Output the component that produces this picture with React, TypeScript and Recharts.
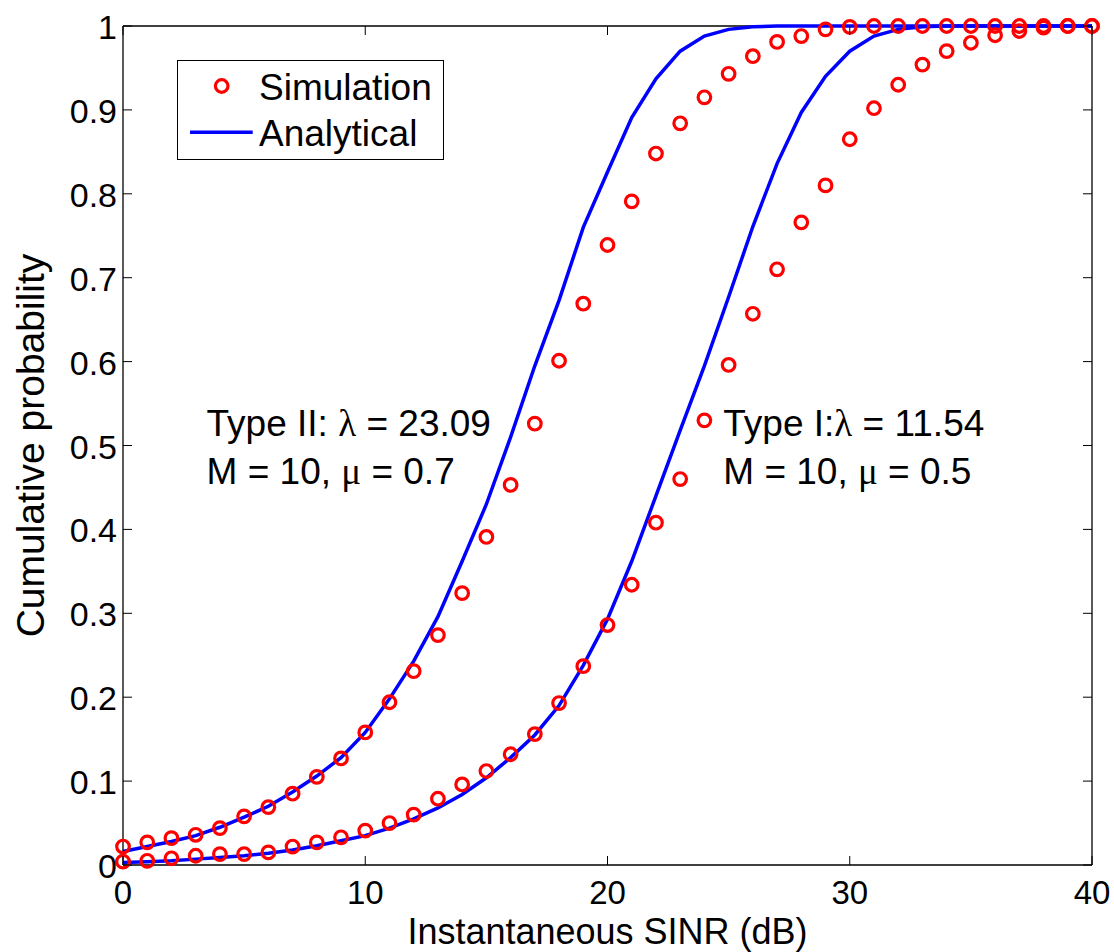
import React from "react";
import {
  ComposedChart,
  Line,
  Scatter,
  XAxis,
  YAxis,
  Legend,
  ReferenceLine,
  ReferenceDot,
} from "recharts";

// x axis: instantaneous SINR in dB
const sinrDb = [
  0, 1, 2, 3, 4, 5, 6, 7, 8, 9, 10, 11, 12, 13, 14, 15, 16, 17, 18, 19, 20,
  21, 22, 23, 24, 25, 26, 27, 28, 29, 30, 31, 32, 33, 34, 35, 36, 37, 38, 39, 40,
];

// simulation (circles)
const simTypeII = [
  0.022, 0.027, 0.032, 0.036, 0.044, 0.058, 0.069, 0.085, 0.105, 0.127, 0.158,
  0.194, 0.231, 0.274, 0.324, 0.391, 0.453, 0.526, 0.601, 0.669, 0.739, 0.791,
  0.848, 0.884, 0.915, 0.943, 0.964, 0.981, 0.988, 0.996, 0.999, 1, 1, 1, 1, 1,
  1, 1, 1, 1, 1,
];
const simTypeI = [
  0.004, 0.005, 0.008, 0.011, 0.013, 0.013, 0.015, 0.022, 0.027, 0.033, 0.041,
  0.05, 0.06, 0.079, 0.096, 0.112, 0.132, 0.156, 0.193, 0.237, 0.286, 0.334,
  0.408, 0.46, 0.53, 0.596, 0.657, 0.71, 0.766, 0.81, 0.865, 0.902, 0.93,
  0.954, 0.97, 0.98, 0.989, 0.994, 0.998, 1, 1,
];

// analytical (solid lines)
const anaTypeII = [
  0.016, 0.022, 0.028, 0.035, 0.045, 0.057, 0.07, 0.087, 0.106, 0.128, 0.158,
  0.198, 0.243, 0.296, 0.362, 0.43, 0.51, 0.595, 0.673, 0.76, 0.826, 0.891,
  0.937, 0.97, 0.988, 0.996, 0.999, 1, 1, 1, 1, 1, 1, 1, 1, 1, 1, 1, 1, 1, 1,
];
const anaTypeI = [
  0.003, 0.004, 0.005, 0.007, 0.009, 0.011, 0.014, 0.018, 0.023, 0.029, 0.035,
  0.044, 0.055, 0.068, 0.084, 0.104, 0.128, 0.155, 0.19, 0.238, 0.293, 0.362,
  0.44, 0.518, 0.595, 0.677, 0.761, 0.836, 0.897, 0.94, 0.97, 0.988, 0.996,
  0.999, 1, 1, 1, 1, 1, 1, 1,
];

const xTicks = [0, 10, 20, 30, 40];
const yTicks = [0, 0.1, 0.2, 0.3, 0.4, 0.5, 0.6, 0.7, 0.8, 0.9, 1];

const annotations = [
  { x: 3.45, y: 0.511, lines: ["Type II: λ = 23.09", "M = 10, μ = 0.7"] },
  { x: 24.78, y: 0.511, lines: ["Type I:λ = 11.54", "M = 10, μ = 0.5"] },
];

const data = sinrDb.map((x, i) => ({
  x,
  simI: simTypeI[i],
  simII: simTypeII[i],
  anaI: anaTypeI[i],
  anaII: anaTypeII[i],
}));

const FONT = '"Liberation Sans", Arial, Helvetica, sans-serif';
const GREEK = '"Liberation Serif", "DejaVu Serif", serif';
const PLOT = { left: 123, top: 26, right: 1092, bottom: 865 };
const TICK_LEN = 9;

const withGreek = (s: string) =>
  s.split(/([λμ])/).map((part, i) =>
    part === "λ" || part === "μ" ? (
      <tspan key={i} fontFamily={GREEK}>
        {part}
      </tspan>
    ) : (
      <tspan key={i}>{part}</tspan>
    )
  );

const XTick = (props: any) => {
  const { x, payload } = props;
  return (
    <g>
      <line x1={x} x2={x} y1={PLOT.bottom} y2={PLOT.bottom - TICK_LEN} stroke="#000" strokeWidth={1} />
      <line x1={x} x2={x} y1={PLOT.top} y2={PLOT.top + TICK_LEN} stroke="#000" strokeWidth={1} />
      <text x={x} y={PLOT.bottom + 39} textAnchor="middle" fontFamily={FONT} fontSize={33} fill="#000">
        {payload.value}
      </text>
    </g>
  );
};

const YTick = (props: any) => {
  const { y, payload } = props;
  return (
    <g>
      <line x1={PLOT.left} x2={PLOT.left + TICK_LEN} y1={y} y2={y} stroke="#000" strokeWidth={1} />
      <line x1={PLOT.right} x2={PLOT.right - TICK_LEN} y1={y} y2={y} stroke="#000" strokeWidth={1} />
      <text x={PLOT.left - 6} y={y + 13} textAnchor="end" fontFamily={FONT} fontSize={34} fill="#000">
        {String(+Number(payload.value).toFixed(1))}
      </text>
    </g>
  );
};

const Marker = (props: any) => (
  <circle cx={props.cx} cy={props.cy} r={6.3} fill="none" stroke="#ff0000" strokeWidth={3.2} />
);

const LegendBox = () => (
  <svg width={267} height={100} style={{ display: "block" }}>
    <rect x={0.5} y={0.5} width={266} height={99} fill="#fff" stroke="#000" strokeWidth={1} />
    <circle cx={44.7} cy={26} r={6.3} fill="none" stroke="#ff0000" strokeWidth={3.2} />
    <line x1={13} x2={75.7} y1={72.3} y2={72.3} stroke="#0000ff" strokeWidth={3.5} />
    <text x={82} y={40} fontFamily={FONT} fontSize={37} fill="#000">
      Simulation
    </text>
    <text x={82} y={85.7} fontFamily={FONT} fontSize={37} fill="#000">
      Analytical
    </text>
  </svg>
);

const AnnotationText = (lines: string[]) => (props: any) => (
  <text x={props.cx} y={props.cy} fontFamily={FONT} fontSize={37} fill="#000">
    {lines.map((line, i) => (
      <tspan key={i} x={props.cx} dy={i === 0 ? 0 : 47.6}>
        {withGreek(line)}
      </tspan>
    ))}
  </text>
);

const App = () => {
  return (
    <div style={{ position: "absolute", left: 0, top: 0, background: "#fff" }}>
      <ComposedChart
        width={1114}
        height={952}
        data={data}
        margin={{ top: 26, right: 22, left: 0, bottom: 0 }}
      >
        <XAxis
          dataKey="x"
          type="number"
          domain={[0, 40]}
          ticks={xTicks}
          interval={0}
          tickLine={false}
          tickSize={0}
          height={87}
          axisLine={{ stroke: "#000", strokeWidth: 1.3 }}
          tick={<XTick />}
          label={{
            value: "Instantaneous SINR (dB)",
            position: "insideBottom",
            offset: 8,
            fontSize: 36,
            fontFamily: FONT,
            fill: "#000",
          }}
        />
        <YAxis
          type="number"
          domain={[0, 1]}
          ticks={yTicks}
          interval={0}
          tickLine={false}
          tickSize={0}
          width={123}
          axisLine={{ stroke: "#000", strokeWidth: 1.3 }}
          tick={<YTick />}
          label={{
            content: ({ viewBox }: any) => {
              const cy = viewBox.y + viewBox.height / 2;
              return (
                <text
                  x={44}
                  y={cy}
                  transform={`rotate(-90, 44, ${cy})`}
                  textAnchor="middle"
                  fontFamily={FONT}
                  fontSize={39}
                  fill="#000"
                >
                  Cumulative probability
                </text>
              );
            },
          }}
        />
        <ReferenceLine y={1} stroke="#000" strokeWidth={1.3} />
        <ReferenceLine x={40} stroke="#000" strokeWidth={1.3} />
        <Line dataKey="anaII" type="linear" stroke="#0000ff" strokeWidth={3.5} dot={false} isAnimationActive={false} />
        <Line dataKey="anaI" type="linear" stroke="#0000ff" strokeWidth={3.5} dot={false} isAnimationActive={false} />
        <Scatter dataKey="simII" shape={<Marker />} isAnimationActive={false} />
        <Scatter dataKey="simI" shape={<Marker />} isAnimationActive={false} />
        {annotations.map((a, i) => (
          <ReferenceDot key={i} x={a.x} y={a.y} r={0} shape={AnnotationText(a.lines)} />
        ))}
        <Legend
          layout="vertical"
          align="center"
          verticalAlign="middle"
          wrapperStyle={{ position: "absolute", left: 177, top: 60, width: 267, height: 100 }}
          content={() => <LegendBox />}
        />
      </ComposedChart>
    </div>
  );
};

export default App;
